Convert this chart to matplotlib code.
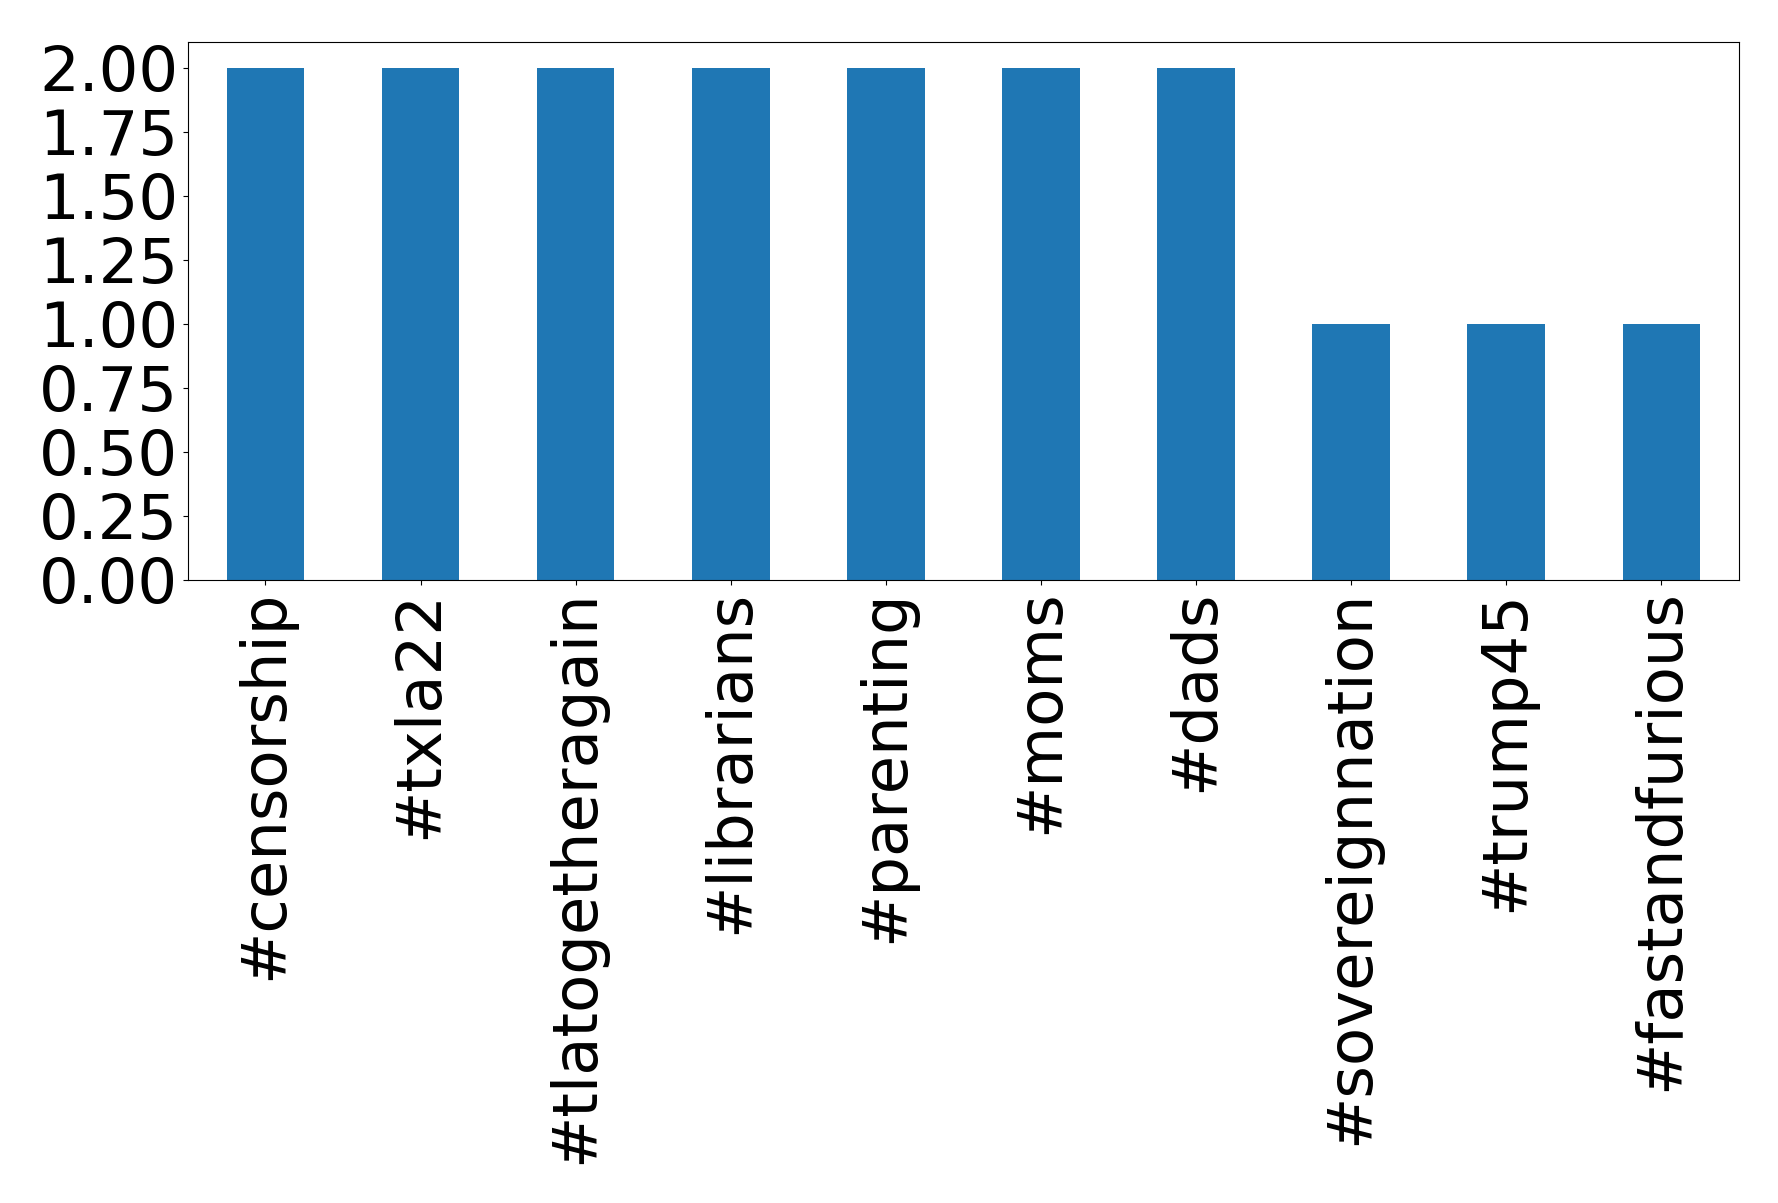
import matplotlib
matplotlib.use("Agg")
import matplotlib.pyplot as plt
import pandas as pd

hashtags = ["#censorship", "#txla22", "#tlatogetheragain", "#librarians",
            "#parenting", "#moms", "#dads", "#sovereignnation", "#trump45",
            "#fastandfurious"]
counts = [2, 2, 2, 2, 2, 2, 2, 1, 1, 1]

series = pd.Series(counts, index=hashtags)

fig = plt.figure(figsize=(17.78, 12.03), dpi=100)
ax = fig.add_axes([0.1057, 0.518, 0.8723, 0.447])
series.plot(kind="bar", ax=ax, color="#1f77b4", fontsize=45)
ax.set_yticks([0.0, 0.25, 0.5, 0.75, 1.0, 1.25, 1.5, 1.75, 2.0])
ax.set_yticklabels([f"{v:.2f}" for v in ax.get_yticks()])

fig.savefig("out.png", dpi=100)
